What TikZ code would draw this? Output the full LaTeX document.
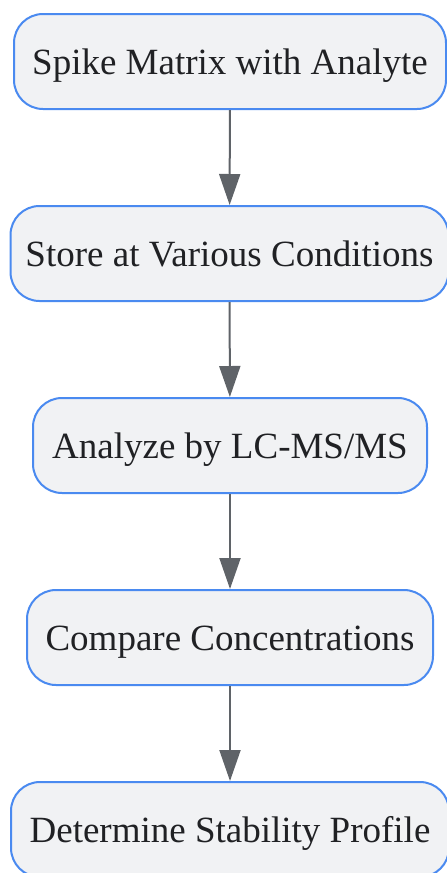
\documentclass[tikz,border=0pt]{standalone}
\usepackage{fontspec}
\setmainfont{Liberation Serif}
\usetikzlibrary{arrows.meta}
\definecolor{boxfill}{RGB}{241,242,244}
\definecolor{boxline}{RGB}{74,138,240}
\definecolor{arrowcol}{RGB}{95,99,104}
\definecolor{txtcol}{RGB}{32,33,36}
\begin{document}
\begin{tikzpicture}[x=1pt,y=-1pt,
  stepbox/.style={draw=boxline, line width=2pt, fill=boxfill, rounded corners=29pt,
    minimum height=95pt, inner sep=0pt, text=txtcol, text height=25pt, text depth=0pt,
    font=\fontsize{37}{42}\selectfont},
  flow/.style={draw=arrowcol, line width=2pt, -{Triangle[length=31pt,width=21pt]}}]
\useasboundingbox (0,0) rectangle (447,873);
\node[stepbox, minimum width=432pt] (a) at (230,61.5) {Spike Matrix with Analyte};
\node[stepbox, minimum width=438pt] (b) at (229.5,253.5) {Store at Various Conditions};
\node[stepbox, minimum width=394pt] (c) at (230,445.5) {Analyze by LC-MS/MS};
\node[stepbox, minimum width=406pt] (d) at (230,637.5) {Compare Concentrations};
\node[stepbox, minimum width=438pt] (e) at (230,829.5) {Determine Stability Profile};
\draw[flow] (a) -- (b);
\draw[flow] (b) -- (c);
\draw[flow] (c) -- (d);
\draw[flow] (d) -- (e);
\end{tikzpicture}
\end{document}
